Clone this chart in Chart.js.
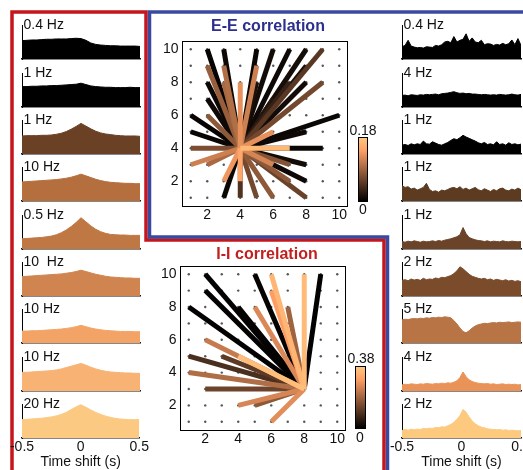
<!DOCTYPE html>
<html>
<head>
<meta charset="utf-8">
<script src="https://cdn.jsdelivr.net/npm/chart.js@4.4.0/dist/chart.umd.min.js"></script>
<style>
html, body { margin: 0; padding: 0; background: #fff; }
body { width: 523px; height: 470px; overflow: hidden; position: relative; font-family: "Liberation Sans", Arial, sans-serif; }
canvas { position: absolute; }
.txt { position: absolute; white-space: pre; line-height: 1; color: #111; }
.cbar { position: absolute; box-sizing: border-box; border: 1px solid #000;
        background: linear-gradient(to top, #000 0%, rgb(255,159,101) 80%, rgb(255,199,127) 100%); }
</style>
</head>
<body>
<svg width="523" height="470" style="position:absolute;left:0;top:0">
  <polyline points="12,472 12,12 146,12 146,240 384,240 384,472" fill="none" stroke="#c4161c" stroke-width="3.5"/>
  <polyline points="525,12 149.5,12 149.5,237 387.5,237 387.5,472" fill="none" stroke="#3a4a9f" stroke-width="3.5"/>
</svg>
<script>
// time axis of the cross-correlograms
const timeTicks = [-0.5, 0, 0.5]
const baselines = [59, 106.5, 154, 201, 248.5, 296, 343, 390.5, 438]
const barHeight = 34

// left column (I-I pairs)
const leftLabels = ['0.4 Hz', '1 Hz', '1 Hz', '10 Hz', '0.5 Hz', '10  Hz', '10 Hz', '10 Hz', '20 Hz']
const leftMax = [0.4, 1, 1, 10, 0.5, 10, 10, 10, 20]
const leftColors = ['#000000', '#000000', '#6b4126', '#b56f3f', '#bf7743', '#d08550', '#f2a365', '#f7b274', '#fcc982']
const L1 = [0.216,0.22,0.224,0.224,0.228,0.232,0.232,0.236,0.236,0.236,0.24,0.244,0.24,0.22,0.188,0.172,0.164,0.16,0.156,0.156,0.152,0.152,0.152,0.152,0.148]
const L2 = [0.60,0.60,0.61,0.61,0.62,0.62,0.63,0.63,0.64,0.65,0.66,0.67,0.70,0.66,0.62,0.60,0.59,0.58,0.58,0.57,0.57,0.57,0.58,0.57,0.57]
const L3 = [0.53,0.54,0.54,0.54,0.55,0.55,0.56,0.58,0.61,0.66,0.73,0.81,0.90,0.82,0.74,0.67,0.62,0.59,0.57,0.55,0.54,0.53,0.53,0.53,0.52]
const L4 = [5.6,5.7,5.8,5.9,6.0,6.1,6.2,6.3,6.5,6.7,7.0,7.4,7.9,7.4,6.9,6.4,6.0,5.7,5.5,5.4,5.3,5.2,5.2,5.1,5.1]
const L5 = [0.15,0.155,0.16,0.165,0.17,0.18,0.19,0.21,0.24,0.28,0.33,0.39,0.46,0.40,0.34,0.29,0.255,0.23,0.215,0.21,0.205,0.205,0.2,0.2,0.2]
const L6 = [5.7,5.8,5.9,6.0,6.1,6.2,6.3,6.4,6.5,6.7,6.9,7.2,7.6,7.2,6.8,6.4,6.1,5.8,5.6,5.5,5.4,5.3,5.3,5.2,5.2]
const L7 = [3.5,3.5,3.6,3.6,3.7,3.8,3.9,4.0,4.1,4.3,4.5,4.8,5.2,4.8,4.4,4.1,3.9,3.7,3.6,3.5,3.4,3.4,3.4,3.3,3.3]
const L8 = [5.5,5.5,5.6,5.7,5.8,5.9,6.0,6.2,6.5,6.9,7.3,7.7,8.1,7.6,7.0,6.5,6.1,5.8,5.6,5.5,5.4,5.3,5.3,5.2,5.2]
const L9 = [10.8,11.0,11.2,11.4,11.6,12.0,12.4,13.0,13.8,15.0,16.6,18.2,19.6,18.2,16.6,15.2,14.0,13.0,12.2,11.6,11.2,11.0,10.8,10.8,10.8]

// right column (E-E pairs)
const rightLabels = ['0.4 Hz', '4 Hz', '1 Hz', '1 Hz', '1 Hz', '2 Hz', '5 Hz', '4 Hz', '2 Hz']
const rightMax = [0.4, 4, 1, 1, 1, 2, 5, 4, 2]
const rightColors = ['#000000', '#000000', '#000000', '#5c3b20', '#6a4328', '#7a4c2c', '#b87444', '#e99358', '#fcc97e']
const R1 = [0.144,0.16,0.22,0.152,0.14,0.132,0.136,0.128,0.144,0.14,0.136,0.16,0.152,0.168,0.2,0.208,0.192,0.264,0.2,0.22,0.232,0.296,0.208,0.248,0.2,0.192,0.22,0.168,0.18,0.176,0.16,0.172,0.164,0.184,0.168,0.18,0.224,0.168,0.24,0.16]
const R2 = [1.36,1.4,1.32,1.44,1.4,1.36,1.44,1.4,1.48,1.44,1.48,1.52,1.44,1.56,1.6,1.64,1.72,1.8,1.68,1.6,1.64,1.56,1.6,1.52,1.52,1.48,1.44,1.48,1.44,1.4,1.44,1.4,1.48,1.44,1.4,1.44,1.52,1.44,1.4,1.48]
const R3 = [0.26,0.28,0.25,0.30,0.27,0.30,0.28,0.38,0.30,0.29,0.36,0.32,0.28,0.26,0.30,0.34,0.40,0.45,0.42,0.48,0.55,0.50,0.46,0.42,0.38,0.33,0.30,0.34,0.28,0.30,0.27,0.36,0.28,0.30,0.26,0.33,0.28,0.30,0.27,0.29]
const R4 = [0.45,0.40,0.42,0.35,0.38,0.32,0.36,0.40,0.52,0.34,0.28,0.30,0.26,0.32,0.30,0.34,0.38,0.40,0.36,0.42,0.34,0.38,0.32,0.36,0.40,0.33,0.30,0.36,0.32,0.28,0.34,0.30,0.36,0.38,0.32,0.30,0.35,0.32,0.38,0.33]
const R5 = [0.22,0.20,0.23,0.21,0.24,0.22,0.20,0.23,0.21,0.22,0.24,0.22,0.25,0.23,0.26,0.28,0.30,0.33,0.36,0.42,0.63,0.45,0.34,0.30,0.27,0.25,0.24,0.22,0.24,0.21,0.23,0.22,0.21,0.24,0.22,0.21,0.23,0.22,0.21,0.22]
const R6 = [0.92,0.96,0.9,1.0,0.94,0.98,0.92,1.04,0.96,1.0,0.98,1.06,1.02,1.1,1.08,1.14,1.2,1.32,1.48,1.72,1.6,1.44,1.28,1.16,1.1,1.04,1.0,1.04,0.96,1.0,0.92,0.98,0.94,0.9,0.96,0.88,0.92,0.86,0.9,0.84]
const R7 = [3.4,3.5,3.45,3.55,3.6,3.55,3.65,3.6,3.7,3.65,3.75,3.7,3.8,3.75,3.85,3.8,3.7,3.3,2.8,2.2,1.7,1.5,1.8,2.2,2.5,2.7,2.8,2.9,2.85,2.95,3.0,2.95,3.05,3.0,3.05,3.1,3.0,3.05,3.1,3.05]
const R8 = [0.72,0.8,0.76,0.84,0.8,0.76,0.84,0.8,0.88,0.84,0.8,0.88,0.84,0.92,0.88,0.96,0.92,1.04,1.2,1.6,2.24,1.68,1.32,1.12,1.0,0.92,0.88,0.84,0.88,0.8,0.84,0.76,0.8,0.84,0.76,0.8,0.76,0.8,0.72,0.76]
const R9 = [0.44,0.5,0.46,0.52,0.48,0.52,0.5,0.56,0.54,0.58,0.56,0.62,0.6,0.66,0.64,0.72,0.8,0.92,1.1,1.32,1.68,1.52,1.24,1.0,0.84,0.72,0.64,0.6,0.54,0.52,0.5,0.48,0.5,0.46,0.48,0.44,0.46,0.44,0.42,0.44]

// connection maps: grid of recorded sites, line end points and correlation values
const gridVals = [1, 2, 3, 4, 5, 6, 7, 8, 9, 10]
const axisTicks = [2, 4, 6, 8, 10]
const eeCenter = [4, 4]
const eeMax = 0.18
const eeX = [2,3,5,6,7,8,9, 2,3,5,8, 2,3,4,8,9,7,5, 2,6, 1,2,10, 1,6,8, 1,7,9, 1,2,6,7,8, 3,4,7,8, 3,4,5,6,8]
const eeY = [10,10,10,10,10,10,10, 9,9,9,9, 8,8,8,8,8,8,8, 7,7, 6,6,6, 5,5,5, 4,4,4, 3,3,3,3,3, 2,2,2,2, 1,1,1,1,1]
const eeR = [0.004,0.008,0.006,0.01,0.008,0.012,0.05, 0.085,0.10,0.115,0.015, 0.006,0.095,0.13,0.01,0.065,0.03,0.015, 0.008,0.02, 0.004,0.08,0.006, 0.005,0.13,0.008, 0.07,0.165,0.006, 0.115,0.095,0.12,0.075,0.01, 0.135,0.15,0.08,0.008, 0.006,0.045,0.065,0.08,0.06]

const iiCenter = [8, 3]
const iiMax = 0.38
const iiX = [2,5,6,8,9, 2,6, 1,4,5,7, 2, 1,3,4, 1, 2, 4,5, 6]
const iiY = [10,10,10,10,10, 9,9, 8,8,8,8, 6, 5,5,5, 4, 3, 2,2, 1]
const iiR = [0.005,0.006,0.345,0.355,0.004, 0.005,0.30, 0.004,0.006,0.26,0.19, 0.235, 0.09,0.11,0.365, 0.21, 0.13, 0.255,0.17, 0.27]

Chart.defaults.font.family = "'Liberation Sans', Arial, sans-serif"
Chart.defaults.color = '#111'

function copper(t){
    t = Math.max(0, Math.min(1, t))
    let r = Math.round(Math.min(1, 1.25 * t) * 255)
    let g = Math.round(0.7812 * t * 255)
    let b = Math.round(0.4975 * t * 255)
    return `rgb(${r},${g},${b})`
}

function addCanvas(left, top, w, h){
    let c = document.createElement('canvas')
    c.width = w
    c.height = h
    c.style.left = left + 'px'
    c.style.top = top + 'px'
    c.style.width = w + 'px'
    c.style.height = h + 'px'
    document.body.appendChild(c)
    return c
}

function addText(txt, x, y, size, opts){
    let d = document.createElement('div')
    d.className = 'txt'
    d.textContent = txt
    d.style.fontSize = size + 'px'
    d.style.left = x + 'px'
    d.style.top = y + 'px'
    d.style.transform = (opts && opts.center) ? 'translate(-50%,-50%)' : 'translate(0,-50%)'
    if(opts && opts.bold) d.style.fontWeight = 'bold'
    if(opts && opts.color) d.style.color = opts.color
    document.body.appendChild(d)
}

const leftSide = {data: [L1,L2,L3,L4,L5,L6,L7,L8,L9], labels: leftLabels, max: leftMax, colors: leftColors,
    left: 0, width: 150, padLeft: 22, padRight: 10, barX: 22}
const rightSide = {data: [R1,R2,R3,R4,R5,R6,R7,R8,R9], labels: rightLabels, max: rightMax, colors: rightColors,
    left: 385, width: 160, padLeft: 17, padRight: 24, barX: 402}

function drawPanel(side, i){
    const vals = side.data[i]
    const last = i == baselines.length - 1
    const plotTop = baselines[i] - barHeight
    const h = 2 + barHeight + (last ? 33 : 2)
    const canvas = addCanvas(side.left, plotTop - 2, side.width, h)
    new Chart(canvas, {
        type: 'line',
        data: {
            datasets: [{
                data: vals.map((v, k) => ({x: -0.5 + k / (vals.length - 1), y: v})),
                fill: 'origin',
                backgroundColor: side.colors[i],
                borderColor: side.colors[i],
                borderWidth: 1,
                pointRadius: 0,
                tension: 0
            }]
        },
        options: {
            responsive: false,
            animation: false,
            layout: {padding: {left: side.padLeft, right: side.padRight, top: 2, bottom: last ? 0 : 2}},
            plugins: {legend: {display: false}, tooltip: {enabled: false}},
            scales: {
                x: {
                    type: 'linear', min: -0.5, max: 0.5,
                    grid: {display: false, drawTicks: false},
                    border: {display: true, color: '#111', width: 1.5},
                    ticks: {display: last, padding: 1, font: {size: 14}, color: '#111'},
                    title: {display: last, text: 'Time shift (s)', font: {size: 14}, color: '#111', padding: 0},
                    afterBuildTicks: s => { s.ticks = timeTicks.map(v => ({value: v})) },
                    afterFit: s => { s.height = last ? 33 : 0 }
                },
                y: {
                    type: 'linear', min: 0, max: side.max[i],
                    grid: {display: false, drawTicks: false},
                    border: {display: true, color: '#000', width: 1},
                    ticks: {display: false},
                    afterFit: s => { s.width = 0 }
                }
            }
        }
    })
    addText(side.labels[i], side.barX + 1.5, plotTop - 1, 14)
}

function drawCorr(box, center, ex, ey, ev, vmax){
    const canvas = addCanvas(box.left - 32.5, box.top - 13, 32.5 + box.w + 12.5, 13 + box.h + 24)
    let datasets = []
    let order = ev.map((v, k) => k).sort((a, b) => ev[b] - ev[a])
    order.forEach(k => {
        datasets.push({
            data: [{x: center[0], y: center[1]}, {x: ex[k], y: ey[k]}],
            showLine: true,
            borderColor: copper(ev[k] / vmax),
            borderWidth: 5,
            borderCapStyle: 'butt',
            pointRadius: 0
        })
    })
    let dots = []
    gridVals.forEach(gx => gridVals.forEach(gy => dots.push({x: gx, y: gy})))
    datasets.push({data: dots, pointRadius: 1.2, pointBackgroundColor: '#555', pointBorderWidth: 0, showLine: false})
    let outer = []
    axisTicks.forEach(v => { outer.push({x: v, y: 11}); outer.push({x: 11, y: v}) })
    datasets.push({data: outer, pointRadius: 1, pointBackgroundColor: '#777', pointBorderWidth: 0, showLine: false, clip: false})

    const tickFont = {size: 14}
    new Chart(canvas, {
        type: 'scatter',
        data: {datasets: datasets},
        options: {
            responsive: false,
            animation: false,
            layout: {padding: {left: 0, right: 12.5, top: 13, bottom: 0}},
            plugins: {legend: {display: false}, tooltip: {enabled: false}},
            scales: {
                x: {
                    type: 'linear', position: 'bottom', min: 0.5, max: 10.5,
                    grid: {display: false, drawTicks: false},
                    border: {display: true, color: '#000', width: 1},
                    ticks: {font: tickFont, color: '#111', padding: 1, maxRotation: 0},
                    afterBuildTicks: s => { s.ticks = axisTicks.map(v => ({value: v})) },
                    afterFit: s => { s.height = 24 }
                },
                y: {
                    type: 'linear', position: 'left', min: 0.5, max: 10.5,
                    grid: {display: false, drawTicks: false},
                    border: {display: true, color: '#000', width: 1},
                    ticks: {font: tickFont, color: '#111', padding: 4},
                    afterBuildTicks: s => { s.ticks = axisTicks.map(v => ({value: v})) },
                    afterFit: s => { s.width = 32.5 }
                },
                x2: {
                    axis: 'x', type: 'linear', position: 'top', min: 0.5, max: 10.5,
                    grid: {display: false, drawTicks: false},
                    border: {display: true, color: '#000', width: 1},
                    ticks: {display: false},
                    afterFit: s => { s.height = 0 }
                },
                y2: {
                    axis: 'y', type: 'linear', position: 'right', min: 0.5, max: 10.5,
                    grid: {display: false, drawTicks: false},
                    border: {display: true, color: '#000', width: 1},
                    ticks: {display: false},
                    afterFit: s => { s.width = 0 }
                }
            }
        }
    })
}

function addColorbar(left, top, w, h){
    let d = document.createElement('div')
    d.className = 'cbar'
    d.style.left = left + 'px'
    d.style.top = top + 'px'
    d.style.width = w + 'px'
    d.style.height = h + 'px'
    document.body.appendChild(d)
}

for(let i = 0; i < baselines.length; i++){
    drawPanel(leftSide, i)
    drawPanel(rightSide, i)
}

drawCorr({left: 182.5, top: 41, w: 165, h: 165}, eeCenter, eeX, eeY, eeR, eeMax)
drawCorr({left: 180.5, top: 266, w: 165, h: 164}, iiCenter, iiX, iiY, iiR, iiMax)

addText('E-E correlation', 268, 26, 16, {center: true, bold: true, color: '#2d2f8e'})
addText('I-I correlation', 267, 254, 16, {center: true, bold: true, color: '#c1201f'})

addColorbar(358, 137, 10, 65)
addText(String(eeMax), 363, 130, 14, {center: true})
addText('0', 363, 208.5, 14, {center: true})

addColorbar(355, 366, 11, 63)
addText(String(iiMax), 361, 358, 14, {center: true})
addText('0', 360, 437, 14, {center: true})
</script>
</body>
</html>
